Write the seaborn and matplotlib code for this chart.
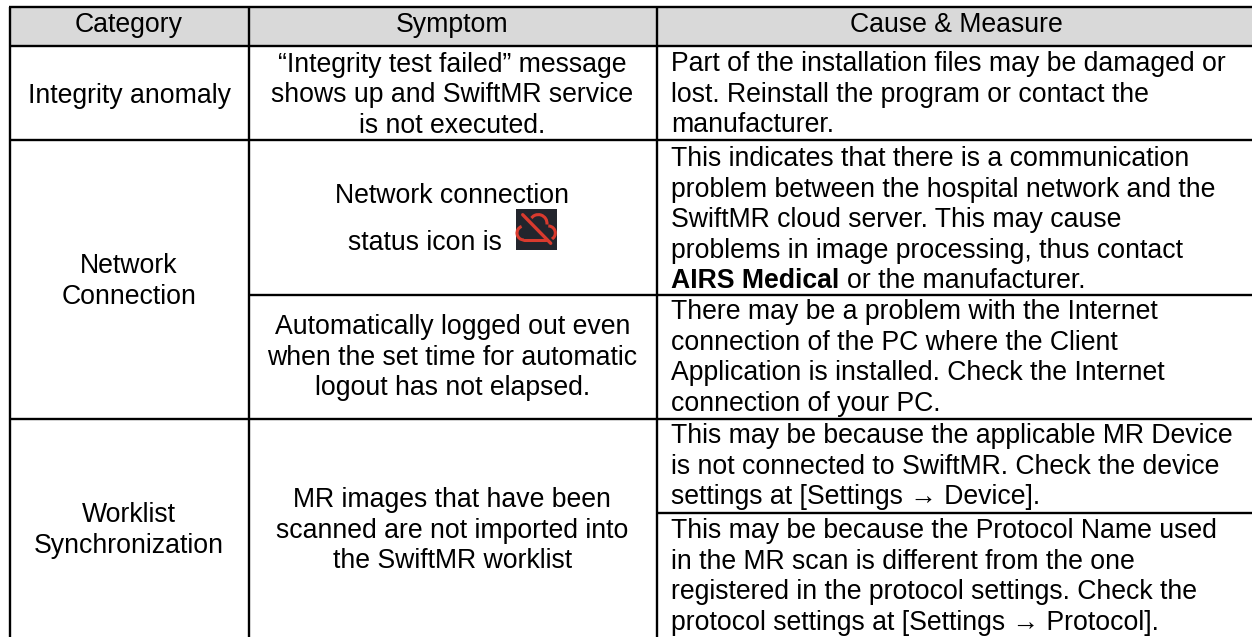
import matplotlib
matplotlib.use("Agg")
import matplotlib.pyplot as plt
import numpy as np
import seaborn as sns
from matplotlib.patches import Rectangle, Arc

header = ["Category", "Symptom", "Cause & Measure"]
categories = [["Integrity anomaly"], ["Network", "Connection"], ["Worklist", "Synchronization"]]
symptoms = [
    ["\u201cIntegrity test failed\u201d message", "shows up and SwiftMR service", "is not executed."],
    ["Network connection"],
    ["Automatically logged out even", "when the set time for automatic", "logout has not elapsed."],
    ["MR images that have been", "scanned are not imported into", "the SwiftMR worklist"],
]
causes = [
    ["Part of the installation files may be damaged or", "lost. Reinstall the program or contact the", "manufacturer."],
    ["This indicates that there is a communication", "problem between the hospital network and the", "SwiftMR cloud server. This may cause", "problems in image processing, thus contact"],
    ["There may be a problem with the Internet", "connection of the PC where the Client", "Application is installed. Check the Internet", "connection of your PC."],
    ["This may be because the applicable MR Device", "is not connected to SwiftMR. Check the device", "settings at [Settings \u2192 Device]."],
    ["This may be because the Protocol Name used", "in the MR scan is different from the one", "registered in the protocol settings. Check the", "protocol settings at [Settings \u2192 Protocol]."],
]

sns.set_theme(style="white")
plt.rcParams['font.family'] = ['Liberation Sans', 'DejaVu Sans']
FS = 19.2
LINE = 30.7

fig = plt.figure(figsize=(12.52, 6.37), dpi=100, facecolor="white")

# header band
hax = fig.add_axes([10 / 1252, 1 - 46.5 / 637, 1242 / 1252, 39.5 / 637])
sns.heatmap(np.zeros((1, 1)), ax=hax, cbar=False, cmap=["#d9d9d9"], xticklabels=False, yticklabels=False)

ax = fig.add_axes([0, 0, 1, 1], facecolor="none")
ax.set_xlim(0, 1252)
ax.set_ylim(637, 0)
ax.axis("off")

for y, x0 in [(7, 9), (46.2, 9), (139.7, 9), (295, 248), (418.5, 9), (513, 656)]:
    ax.plot([x0, 1252], [y, y], color="black", lw=1.7, solid_capstyle="butt")
for x in [10, 248.7, 656.7]:
    ax.plot([x, x], [7, 637], color="black", lw=1.7, solid_capstyle="butt")


def block(lines, x, y0, ha="center"):
    for i, s in enumerate(lines):
        ax.text(x, y0 + i * LINE, s, ha=ha, va="baseline", fontsize=FS, color="black")


for x, s in zip([129, 452, 956.5], header):
    ax.text(x, 31.5, s, ha="center", va="baseline", fontsize=FS, color="black")

for lines, y in zip(categories, [103, 273, 522.5]):
    block(lines, 129, y)
for lines, y in zip(symptoms, [71.5, 203, 334, 507]):
    block(lines, 452.3, y)
block(["status icon is"], 425, 250)
for lines, y in zip(causes, [71, 166, 319, 443, 538]):
    block(lines, 671, y, ha="left")

# bold run on the last line of the network cell
bold = ax.text(671, 288, "AIRS Medical", ha="left", va="baseline", fontsize=FS, fontweight="bold", color="black")
fig.canvas.draw()
end = bold.get_window_extent().x1
ax.text(end + 8, 288, "or the manufacturer.", ha="left", va="baseline", fontsize=FS, color="black")

# status icon
ax.add_patch(Rectangle((516, 209), 41, 41, facecolor="#23252d", edgecolor="none"))
red = "#d93a2e"
ax.add_patch(Arc((524, 233), 14, 14, theta1=90, theta2=250, color=red, lw=2.2))
ax.add_patch(Arc((538.3, 223.3), 17.4, 17.4, theta1=207, theta2=8, color=red, lw=2.2))
ax.add_patch(Arc((548.3, 233), 14, 14, theta1=270, theta2=100, color=red, lw=2.2))
ax.plot([524, 546], [240, 240], color=red, lw=2.2)
ax.plot([524.5, 552.5], [213, 241.5], color="#23252d", lw=2)
ax.plot([522.7, 550.7], [214.7, 243.3], color=red, lw=2.4)

fig.savefig("out.png", dpi=100)
